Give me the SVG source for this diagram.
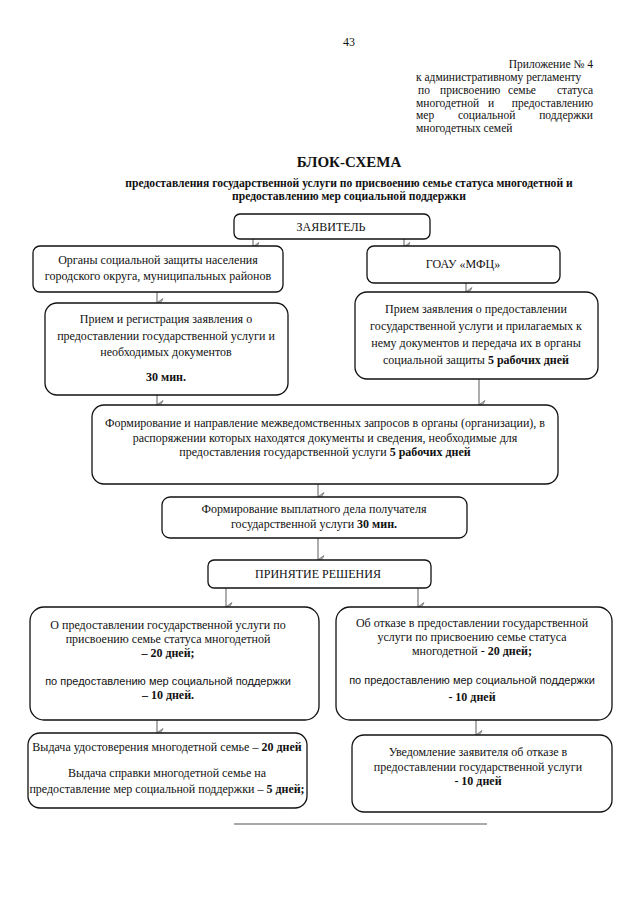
<svg xmlns="http://www.w3.org/2000/svg" width="640" height="905" viewBox="0 0 640 905">
<defs>
<style>
.t{font-family:"Liberation Serif","Times New Roman",serif;font-size:12px;fill:#111}
.h{font-family:"Liberation Serif","Times New Roman",serif;font-size:11.5px;fill:#111}
.c{text-anchor:middle}
.b{font-weight:bold}
.s{font-family:"Liberation Sans",Arial,sans-serif;font-size:11px;fill:#111}
.box{fill:#fff;stroke:#111;stroke-width:1.3}
.arr{stroke:#8a8a8a;stroke-width:1.4;fill:none}
</style>
<marker id="ah" viewBox="0 0 10 10" refX="5" refY="9" markerWidth="10" markerHeight="10" markerUnits="userSpaceOnUse" orient="auto">
<path d="M0.5,3 L5,9.5 L9.5,3 L6.5,4.5 L5,6.5 L3.5,4.5 Z" fill="#b0b0b0" stroke="#777" stroke-width="0.8"/>
</marker>
</defs>
<rect width="640" height="905" fill="#fff"/>

<g id="header">
<text class="t c" x="349" y="46">43</text>
<text class="h" x="593" y="68" text-anchor="end">Приложение № 4</text>
<text class="h" x="416" y="81">к административному регламенту</text>
<text class="h" x="418" y="94">по</text>
<text class="h" x="440" y="94">присвоению</text>
<text class="h" x="508" y="94">семье</text>
<text class="h" x="593" y="94" text-anchor="end">статуса</text>
<text class="h" x="416" y="107">многодетной</text>
<text class="h" x="488" y="107">и</text>
<text class="h" x="593" y="107" text-anchor="end">предоставлению</text>
<text class="h" x="416" y="119">мер</text>
<text class="h" x="458" y="119">социальной</text>
<text class="h" x="593" y="119" text-anchor="end">поддержки</text>
<text class="h" x="416" y="132">многодетных семей</text>
<text class="t c b" x="349" y="167" style="font-size:15px">БЛОК-СХЕМА</text>
<text class="t c b" x="349" y="187" style="font-size:11.6px">предоставления государственной услуги по присвоению семье статуса многодетной и</text>
<text class="t c b" x="349" y="200" style="font-size:11.6px">предоставлению мер социальной поддержки</text>
</g>

<g id="connectors">
<line class="arr" x1="253" y1="238" x2="253" y2="247" marker-end="url(#ah)"/>
<line class="arr" x1="404" y1="238" x2="404" y2="247" marker-end="url(#ah)"/>
<line class="arr" x1="157" y1="292" x2="157" y2="303" marker-end="url(#ah)"/>
<line class="arr" x1="466" y1="283" x2="466" y2="292" marker-end="url(#ah)"/>
<line class="arr" x1="157" y1="394" x2="157" y2="405" marker-end="url(#ah)"/>
<line class="arr" x1="479" y1="379" x2="479" y2="405" marker-end="url(#ah)"/>
<line class="arr" x1="318" y1="484" x2="318" y2="497" marker-end="url(#ah)"/>
<line class="arr" x1="318" y1="538" x2="318" y2="560" marker-end="url(#ah)"/>
<line class="arr" x1="226" y1="588" x2="226" y2="607" marker-end="url(#ah)"/>
<line class="arr" x1="418" y1="588" x2="418" y2="607" marker-end="url(#ah)"/>
<line class="arr" x1="157" y1="720" x2="157" y2="733" marker-end="url(#ah)"/>
<line class="arr" x1="476" y1="720" x2="476" y2="735" marker-end="url(#ah)"/>
</g>

<g id="n-applicant">
<rect class="box" x="234" y="214" width="196" height="25" rx="6"/>
<text class="t c" x="331" y="231">ЗАЯВИТЕЛЬ</text>
</g>

<g id="n-organs">
<rect class="box" x="33" y="246" width="250" height="46" rx="7"/>
<text class="t c" x="158" y="264">Органы социальной защиты населения</text>
<text class="t c" x="158" y="280">городского округа, муниципальных районов</text>
</g>

<g id="n-mfc">
<rect class="box" x="367" y="246" width="193" height="37" rx="7"/>
<text class="t c" x="463" y="268">ГОАУ «МФЦ»</text>
</g>

<g id="n-reg">
<rect class="box" x="45" y="303" width="243" height="92" rx="12"/>
<text class="t c" x="166" y="323">Прием и регистрация заявления о</text>
<text class="t c" x="166" y="340">предоставлении государственной услуги и</text>
<text class="t c" x="166" y="356">необходимых документов</text>
<text class="t c b" x="166" y="381">30 мин.</text>
</g>

<g id="n-mfc-receive">
<rect class="box" x="355" y="292" width="243" height="87" rx="12"/>
<text class="t c" x="476" y="313">Прием заявления о предоставлении</text>
<text class="t c" x="476" y="330">государственной услуги и прилагаемых к</text>
<text class="t c" x="476" y="347">нему документов и передача их в органы</text>
<text class="t c" x="476" y="364">социальной защиты <tspan class="b">5 рабочих дней</tspan></text>
</g>

<g id="n-requests">
<rect class="box" x="92" y="405" width="466" height="79" rx="12"/>
<text class="t c" x="325" y="427">Формирование и направление межведомственных запросов в органы (организации), в</text>
<text class="t c" x="325" y="442">распоряжении которых находятся документы и сведения, необходимые для</text>
<text class="t c" x="325" y="456">предоставления государственной услуги <tspan class="b">5 рабочих дней</tspan></text>
</g>

<g id="n-file">
<rect class="box" x="162" y="497" width="305" height="41" rx="8"/>
<text class="t c" x="314" y="513">Формирование выплатного дела получателя</text>
<text class="t c" x="314" y="528">государственной услуги <tspan class="b">30 мин.</tspan></text>
</g>

<g id="n-decision">
<rect class="box" x="208" y="560" width="223" height="28" rx="6"/>
<text class="t c" x="318" y="578">ПРИНЯТИЕ РЕШЕНИЯ</text>
</g>

<g id="n-grant">
<rect class="box" x="30" y="607" width="289" height="113" rx="14"/>
<text class="t c" x="168" y="629">О предоставлении государственной услуги по</text>
<text class="t c" x="168" y="643">присвоению семье статуса многодетной</text>
<text class="t c b" x="168" y="657">– 20  дней;</text>
<text class="s c" x="168" y="685">по предоставлению мер социальной поддержки</text>
<text class="t c b" x="168" y="699">– 10 дней.</text>
</g>

<g id="n-refuse">
<rect class="box" x="336" y="607" width="276" height="113" rx="14"/>
<text class="t c" x="472" y="627">Об отказе в предоставлении государственной</text>
<text class="t c" x="472" y="641">услуги по присвоению семье статуса</text>
<text class="t c" x="472" y="655">многодетной - <tspan class="b">20 дней;</tspan></text>
<text class="s c" x="472" y="684">по предоставлению мер социальной поддержки</text>
<text class="t c b" x="472" y="701">- 10 дней</text>
</g>

<g id="n-issue">
<rect class="box" x="28" y="733" width="279" height="75" rx="12"/>
<text class="t c" x="167" y="751">Выдача удостоверения многодетной семье – <tspan class="b">20 дней</tspan></text>
<text class="t c" x="167" y="777">Выдача справки многодетной семье на</text>
<text class="t c" x="167" y="793">предоставление мер социальной поддержки – <tspan class="b">5 дней;</tspan></text>
</g>

<g id="n-notify">
<rect class="box" x="352" y="735" width="260" height="77" rx="12"/>
<text class="t c" x="478" y="756">Уведомление заявителя об отказе в</text>
<text class="t c" x="478" y="771">предоставлении государственной услуги</text>
<text class="t c b" x="478" y="785">- 10 дней</text>
</g>

<line x1="234" y1="824" x2="487" y2="824" stroke="#555" stroke-width="1"/>
</svg>
